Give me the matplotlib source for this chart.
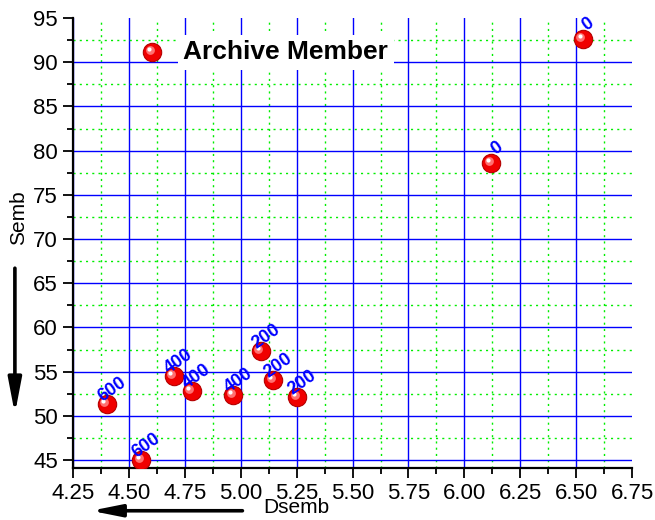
import matplotlib as mpl
import matplotlib.pyplot as plt
from matplotlib.legend_handler import HandlerTuple, HandlerPathCollection
from matplotlib.patches import FancyArrowPatch
from matplotlib.ticker import MultipleLocator
import matplotlib.transforms as mtransforms

mpl.rcParams['font.family'] = ['Liberation Sans', 'DejaVu Sans']

# Archive member measurements
dsemb = [4.40, 4.555, 4.70, 4.78, 4.967, 5.09, 5.145, 5.253, 6.12, 6.53]
semb = [51.3, 45.0, 54.5, 52.8, 52.35, 57.3, 54.0, 52.1, 78.55, 92.6]
point_labels = ["600", "600", "400", "400", "400", "200", "200", "200", "0", "0"]

x_range = (4.25, 6.75)
y_range = (44.1, 95.0)

tick_size = 16
label_size = 15


class ShiftedHandler(HandlerPathCollection):
    """Legend handler that nudges the marker by a fixed offset (in points)."""

    def __init__(self, dx, dy, **kw):
        super().__init__(**kw)
        self.dx, self.dy = dx, dy

    def create_artists(self, legend, orig_handle, xdescent, ydescent, width, height, fontsize, trans):
        shift = mtransforms.ScaledTranslation(self.dx / 72, self.dy / 72, legend.figure.dpi_scale_trans)
        return super().create_artists(legend, orig_handle, xdescent, ydescent, width, height,
                                      fontsize, trans + shift)


fig = plt.figure(figsize=(6.55, 5.2), dpi=100)
ax = fig.add_axes([0.1115, 0.1, 0.8535, 0.8654])

ax.set_xlim(*x_range)
ax.set_ylim(*y_range)

ax.xaxis.set_major_locator(MultipleLocator(0.25))
ax.xaxis.set_minor_locator(MultipleLocator(0.125))
ax.yaxis.set_major_locator(MultipleLocator(5))
ax.yaxis.set_minor_locator(MultipleLocator(2.5))
ax.xaxis.set_major_formatter(lambda v, pos: f"{v:.2f}")

# Grid: blue solid on majors, green dotted on minors
ax.grid(which='major', color='#0000ff', linewidth=1.0, linestyle='-')
ax.grid(which='minor', color='#00ee00', linewidth=1.0, linestyle=(0, (1.5, 3)))
ax.set_axisbelow(True)

# no grid line along the top and right limits
for axis, edge in ((ax.yaxis, y_range[1]), (ax.xaxis, x_range[1])):
    locs = axis.get_majorticklocs()
    for loc, t in zip(locs, axis.get_major_ticks(len(locs))):
        if abs(loc - edge) < 1e-6:
            t.gridline.set_visible(False)

for side in ('top', 'right'):
    ax.spines[side].set_visible(False)
for side in ('left', 'bottom'):
    ax.spines[side].set_linewidth(1.6)

ax.tick_params(which='major', direction='out', length=7, width=1.3, labelsize=tick_size, pad=4)
ax.tick_params(which='minor', direction='out', length=4.5, width=1.3)

# Red "ball" markers: base, soft highlight, bright spot
mid_dx, spot_dx = 1.8, 2.3
shine = mtransforms.ScaledTranslation(-mid_dx / 72, mid_dx / 72, fig.dpi_scale_trans)
spot = mtransforms.ScaledTranslation(-spot_dx / 72, spot_dx / 72, fig.dpi_scale_trans)
base = ax.scatter(dsemb, semb, s=175, color='#f00000', edgecolors='#b40000', linewidths=0.8, zorder=3)
mid = ax.scatter(dsemb, semb, s=40, color='#ff7070', linewidths=0, zorder=4,
                 transform=ax.transData + shine)
hi = ax.scatter(dsemb, semb, s=9, color='white', linewidths=0, zorder=5,
                transform=ax.transData + spot)

for x, y, lbl in zip(dsemb, semb, point_labels):
    ax.annotate(lbl, (x, y), xytext=(3.8, 10.5), textcoords='offset points',
                rotation=35, rotation_mode='anchor', ha='center', va='center',
                color='#0000ff', fontsize=13, fontweight='bold', zorder=6)

leg = ax.legend([(base, mid, hi)], ["Archive Member"],
                handler_map={tuple: HandlerTuple(ndivide=1),
                             mid: ShiftedHandler(-mid_dx, mid_dx),
                             hi: ShiftedHandler(-spot_dx, spot_dx)},
                loc='center left', bbox_to_anchor=(0.118, 0.924), frameon=False,
                prop={'size': 19, 'weight': 'bold'}, handlelength=1.0, handletextpad=0.68,
                borderpad=0, borderaxespad=0)
for txt in leg.get_texts():
    txt.set_bbox(dict(facecolor='white', edgecolor='none', pad=4))

ax.set_ylabel("Semb", fontsize=label_size)
ax.yaxis.set_label_coords(-0.08, 0.557)
ax.set_xlabel("Dsemb", fontsize=label_size)
ax.xaxis.set_label_coords(0.4, -0.066)

# Direction arrows beside the axes
down = FancyArrowPatch((-0.104, 0.444), (-0.104, 0.12), transform=ax.transAxes,
                       arrowstyle='-|>,head_length=21,head_width=4', mutation_scale=1,
                       shrinkA=0, shrinkB=0, color='black', linewidth=2.6, clip_on=False)
left = FancyArrowPatch((0.303, -0.095), (0.032, -0.095), transform=ax.transAxes,
                       arrowstyle='-|>,head_length=18,head_width=3.6', mutation_scale=1,
                       shrinkA=0, shrinkB=0, color='black', linewidth=2.6, clip_on=False)
ax.add_patch(down)
ax.add_patch(left)

plt.savefig("out.png", dpi=100)
